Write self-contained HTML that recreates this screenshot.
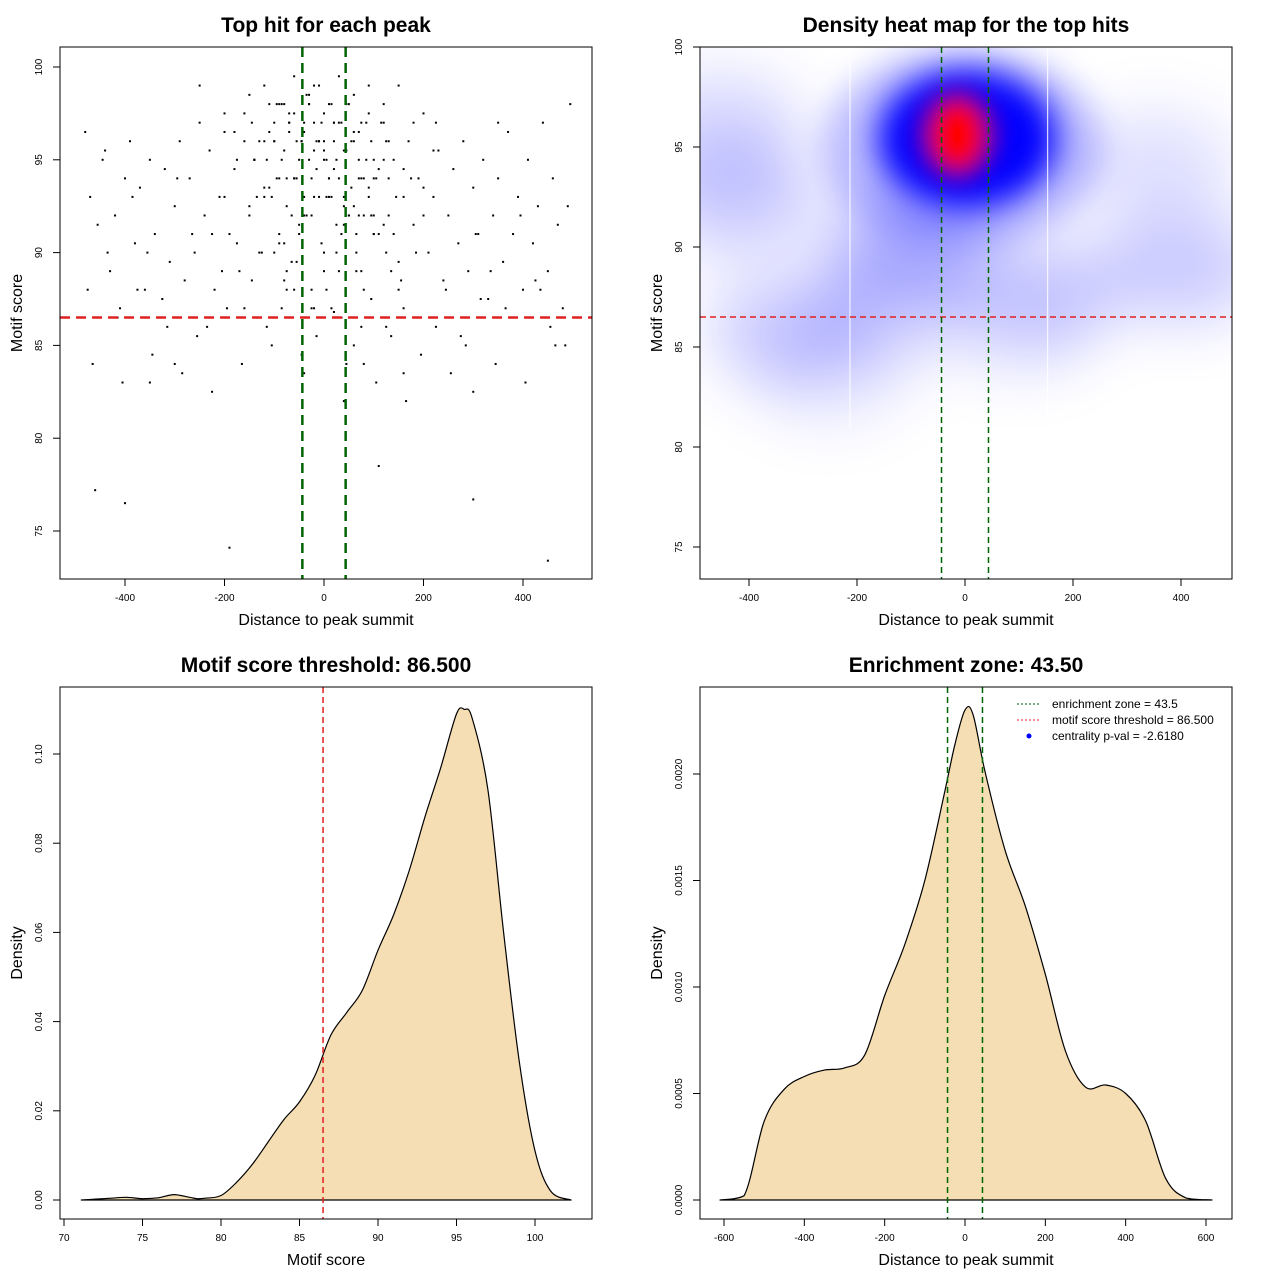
<!DOCTYPE html>
<html><head><meta charset="utf-8"><style>
html,body{margin:0;padding:0;background:#fff;}
svg{display:block;font-family:"Liberation Sans",sans-serif;}
</style></head><body>
<svg id="fig" width="1280" height="1280" viewBox="0 0 1280 1280">
<defs>
<filter id="blur1" x="-50%" y="-50%" width="200%" height="200%"><feGaussianBlur stdDeviation="16"/></filter>
<filter id="blur3" x="-50%" y="-50%" width="200%" height="200%"><feGaussianBlur stdDeviation="10"/></filter>
<filter id="blur2" x="-50%" y="-50%" width="200%" height="200%"><feGaussianBlur stdDeviation="30"/></filter>
<clipPath id="clipHeat"><rect x="700" y="47" width="532" height="532"/></clipPath>
</defs>
</svg>
<script>
// ---------- data ----------
const scatterDist = [-480,-470,-455,-440,-430,-420,-410,-400,-390,-380,-370,-360,-350,-340,-330,-320,-310,-300,-290,-280,-270,-260,-250,-240,-230,-220,-210,-200,-190,-180,-170,-160,-150,-140,-130,-120,-110,-100,-95,-90,-85,-80,-75,-70,-65,-60,-55,-50,-45,-40,-35,-30,-25,-20,-15,-10,-5,0,5,10,15,20,25,30,35,40,45,50,55,60,65,70,75,80,85,90,95,100,110,120,130,140,150,160,170,180,190,200,210,220,230,240,250,260,270,280,290,300,310,320,330,340,350,360,370,380,390,400,410,420,430,440,450,460,470,480,490,
-475,-445,-415,-385,-355,-325,-295,-265,-235,-205,-175,-145,-115,-85,-55,-25,5,35,65,95,125,155,185,215,245,275,305,335,365,395,425,455,485,
-465,-435,-405,-375,-345,-315,-285,-255,-225,-195,-165,-135,-105,-75,-45,-15,15,45,75,105,135,165,195,225,255,285,315,345,375,405,435,465,495,
-250,-200,-150,-120,-90,-60,-30,-10,10,30,60,90,120,150,180,220,-180,-140,-100,-70,-40,-20,0,20,40,70,100,130,160,200,-60,-20,20,60,100,-80,-40,0,40,80,-160,160,-300,300,-350,350,
-140,-120,-100,-80,-60,-40,-20,0,20,40,
60,80,100,120,140,-130,-110,-90,-70,-50,
-30,-10,10,30,50,70,90,110,130,-145,
-125,-105,-85,-65,-45,-25,-5,15,35,55,
75,95,115,135,-135,-115,-95,-75,-55,-35,
-15,5,25,45,65,85,105,125,145,-150,
-100,-50,0,50,100,150,-75,-25,25,75,
125,-175,175,-200,200,-225,225,-160,160,-60,
-20,20,60,-80,80,-40,40,0,-120,120,
-90,90,-30,30,-70,70,-10,10,-110,110,
-460,-190,-400,300,450,-200];
const scatterScore = [96.5,93,91.5,95.5,89,92,87,94,96,90.5,93.5,88,95,91,86.5,94.5,89.5,92.5,96,88.5,94,90,97,92,95.5,88,93,96.5,91,94.5,89,97.5,92.5,95,90,96,93.5,97,94,91,98,95.5,92.5,96.5,89.5,97.5,94,91.5,96,93,98.5,95,92,97,94.5,96,90.5,97.5,95,93,98,96,91.5,94,97,92.5,95.5,98,93.5,96.5,90,94,97,92,95,93.5,96,91,94.5,97,92,95,89.5,93,96,91.5,94,97.5,90,93,95.5,88.5,92,94.5,90.5,96,89,93.5,91,95,87.5,92,94,89.5,96.5,91,93,88,95,90.5,92.5,97,89,94,91.5,87,
92.5,88,95,86.5,93,90,87.5,94,91,86,89,90.5,88.5,86,87,89.5,87,88,86.5,89,87.5,86,88.5,90,86.5,88,85.5,91,89,87,92,88.5,86,
85,84,90,83,88,84.5,86,83.5,85.5,82.5,87,84,86.5,85,88,84.5,85.5,87,84,86,83,85.5,82,84.5,86,83.5,85,87.5,84,86.5,83,88,85,
98,99,97.5,98.5,99,98,99.5,98.5,99,98,99.5,98.5,97.5,98,99,97,95.5,96.5,95,96,97,96.5,95.5,96,97,95.5,96.5,95,96,94.5,93.5,94,93,94.5,92.5,91,90.5,92,90,91.5,88,87,83.5,84,82.5,83,
97,95,93,96,98,94,97,99,95,97,
93,96,94,92,95,91,96,98,94,97,
95,98,96,94,97,92,95,93,91,94,
97,90,93,95,92,96,94,97,93,91,
96,94,92,97,89,93,95,98,94,96,
92,96,93,95,98,91,97,94,90,93,
92,90,91,89,92,94,88,89,88,90,
89,96,95,94,93,92,91,97,96,87,
88,87,86.8,85,88.5,84,83.5,82,95.5,93.5,
91.5,90.5,99,98,89,97.5,92,93,94,96.5,
78.5,77.2,74.1,76.5,76.7,73.4];
const heatDist = [-420,-330,100,400,350,-250,-100,-450,-150,150];
const heatScore = [92.5,86,86.5,89,94,84,90,96,87,88];
const heatLevel = [0.2,0.18,0.12,0.2,0.12,0.1,0.3,0.15,0.15,0.15];
const coreDist = [-5], coreScore = [95.5];
const scoreDensX = [71.1,72,73,74,75,76,77,78,78.5,79,80,81,82,83,84,85,86,87,88,89,90,91,92,93,94,95,95.5,96,97,98,99,100,101,102.3];
const scoreDensY = [0,0.0002,0.0004,0.0006,0.0003,0.0005,0.0012,0.0006,0.0003,0.0004,0.001,0.004,0.008,0.013,0.018,0.022,0.028,0.037,0.042,0.047,0.056,0.064,0.074,0.086,0.097,0.109,0.110,0.108,0.092,0.060,0.031,0.011,0.002,0];
const distDensX = [-610,-550,-500,-450,-400,-350,-300,-250,-200,-150,-100,-50,-25,0,20,50,100,150,200,250,300,350,400,450,500,550,615];
const distDensY = [0,0.00002,0.00037,0.00052,0.00058,0.00061,0.00062,0.00068,0.00096,0.0012,0.0015,0.00192,0.00214,0.0023,0.00228,0.00201,0.00164,0.00138,0.00106,0.0007,0.00053,0.00054,0.0005,0.00037,0.0001,0.00001,0];
const xTicksDist = [-400,-200,0,200,400];
const xTicksDist4 = [-600,-400,-200,0,200,400,600];
const yTicksScore = [75,80,85,90,95,100];
const xTicksScore = [70,75,80,85,90,95,100];
const yTicks3 = [0,0.02,0.04,0.06,0.08,0.10];
const yTicks3Labels = ["0.00","0.02","0.04","0.06","0.08","0.10"];
const yTicks4 = [0,0.0005,0.001,0.0015,0.002];
const yTicks4Labels = ["0.0000","0.0005","0.0010","0.0015","0.0020"];
const zone = 43.5, threshold = 86.5;

const NS="http://www.w3.org/2000/svg";
const svg=document.getElementById('fig');
function mk(tag,attrs,parent){const e=document.createElementNS(NS,tag);for(const k in attrs)e.setAttribute(k,attrs[k]);(parent||svg).appendChild(e);return e;}
function lin(d0,d1,r0,r1){return v=>r0+(v-d0)*(r1-r0)/(d1-d0);}
function smooth(P,base){let d=`M${P[0][0].toFixed(1)},${P[0][1].toFixed(1)}`;
  const cl=y=>Math.min(y,base);
  for(let i=0;i<P.length-1;i++){const p0=P[Math.max(0,i-1)],p1=P[i],p2=P[i+1],p3=P[Math.min(P.length-1,i+2)];
    const c1=[p1[0]+(p2[0]-p0[0])/6,cl(p1[1]+(p2[1]-p0[1])/6)],c2=[p2[0]-(p3[0]-p1[0])/6,cl(p2[1]-(p3[1]-p1[1])/6)];
    d+=` C${c1[0].toFixed(1)},${c1[1].toFixed(1)} ${c2[0].toFixed(1)},${c2[1].toFixed(1)} ${p2[0].toFixed(1)},${p2[1].toFixed(1)}`;}
  return d+' Z';}

function axes(g,b,sx,sy,xt,xl,yt,yl,title,xlab,ylab){
  const t=mk('text',{x:(b.x0+b.x1)/2,y:b.y0-15,'text-anchor':'middle','font-size':21,'font-weight':'bold'},g);
  t.textContent=title;
  const xg=mk('g',{},g);
  xt.forEach((v,i)=>{const x=sx(v);mk('line',{x1:x,x2:x,y1:b.y1,y2:b.y1+7,stroke:'#000'},xg);
    const l=mk('text',{x:x,y:b.y1+22,'text-anchor':'middle','font-size':10},xg);l.textContent=xl[i];});
  const yg=mk('g',{},g);
  yt.forEach((v,i)=>{const y=sy(v);mk('line',{x1:b.x0,x2:b.x0-7,y1:y,y2:y,stroke:'#000'},yg);
    const l=mk('text',{x:b.x0-18,y:y,'text-anchor':'middle','font-size':10,transform:`rotate(-90 ${b.x0-18} ${y})`},yg);l.textContent=yl[i];});
  const xa=mk('text',{x:(b.x0+b.x1)/2,y:b.y1+46,'text-anchor':'middle','font-size':16},g);xa.textContent=xlab;
  const cx=b.x0-38,cy=(b.y0+b.y1)/2;
  const ya=mk('text',{x:cx,y:cy,'text-anchor':'middle','font-size':16,transform:`rotate(-90 ${cx} ${cy})`},g);ya.textContent=ylab;
  const r=mk('rect',{x:b.x0,y:b.y0,width:b.x1-b.x0,height:b.y1-b.y0,fill:'none',stroke:'#000','stroke-width':1},g);
}

// ---------- panel 1: scatter ----------
{
  const b={x0:60,y0:47,x1:592,y1:579};
  const sx=lin(-400,400,125,523), sy=lin(75,100,531,67);
  const g=mk('g',{});
  const pts=mk('g',{},g);
  const n=Math.min(scatterDist.length,scatterScore.length);
  for(let i=0;i<n;i++){const p=mk('rect',{x:sx(scatterDist[i])-1,y:sy(scatterScore[i])-1,width:2,height:2,fill:'#000'},pts);
    }
  const h=mk('line',{x1:b.x0,x2:b.x1,y1:sy(threshold),y2:sy(threshold),stroke:'#e02020','stroke-width':2.5,'stroke-dasharray':'10 6'},g);
  [-zone,zone].forEach(z=>{const v=mk('line',{x1:sx(z),x2:sx(z),y1:b.y0,y2:b.y1,stroke:'#006400','stroke-width':2.5,'stroke-dasharray':'10 6'},g);});
  axes(g,b,sx,sy,xTicksDist,xTicksDist.map(String),yTicksScore,yTicksScore.map(String),'Top hit for each peak','Distance to peak summit','Motif score');
}
// ---------- panel 2: heatmap ----------
{
  const b={x0:700,y0:47,x1:1232,y1:579};
  const sx=lin(-400,400,749,1181), sy=lin(75,100,547,47);
  const g=mk('g',{});
  const hg=mk('g',{'clip-path':'url(#clipHeat)'},g);
  const soft=mk('g',{filter:'url(#blur2)'},hg);
  heatDist.forEach((d,i)=>{const e=mk('ellipse',{cx:sx(d),cy:sy(heatScore[i]),rx:80,ry:55,fill:'#0000ff','fill-opacity':heatLevel[i]},soft);});
  const core=mk('g',{filter:'url(#blur1)'},hg);
  const redg=mk('g',{filter:'url(#blur3)'},hg);
  coreDist.forEach((d,i)=>{
    const cx=sx(d),cy=sy(coreScore[i]);
    const e1=mk('ellipse',{cx:cx,cy:cy+10,rx:140,ry:100,fill:'#0000ff','fill-opacity':0.25},core);
    const e2=mk('ellipse',{cx:cx+5,cy:cy+2,rx:90,ry:70,fill:'#0000ff'},core);
    const e4=mk('ellipse',{cx:cx-5,cy:cy-2,rx:42,ry:48,fill:'#a000a0','fill-opacity':0.7},redg);
    const e3=mk('ellipse',{cx:cx-5,cy:cy-2,rx:26,ry:34,fill:'#ff0000'},redg);
  });
  [-213,153].forEach(d=>{const l=mk('line',{x1:sx(d),x2:sx(d),y1:b.y0,y2:sy(81),stroke:'#fff','stroke-width':1.2,'stroke-opacity':0.8},hg);});
  const h=mk('line',{x1:b.x0,x2:b.x1,y1:sy(threshold),y2:sy(threshold),stroke:'#e02020','stroke-width':1.5,'stroke-dasharray':'6 4'},g);
  [-zone,zone].forEach(z=>{const v=mk('line',{x1:sx(z),x2:sx(z),y1:b.y0,y2:b.y1,stroke:'#006400','stroke-width':1.5,'stroke-dasharray':'6 4'},g);});
  axes(g,b,sx,sy,xTicksDist,xTicksDist.map(String),yTicksScore,yTicksScore.map(String),'Density heat map for the top hits','Distance to peak summit','Motif score');
}
// ---------- panel 3: score density ----------
{
  const b={x0:60,y0:687,x1:592,y1:1219};
  const sx=lin(70,100,64,535), sy=lin(0,0.10,1200,754);
  const g=mk('g',{});
  const P=scoreDensX.map((x,i)=>[sx(x),sy(scoreDensY[i])]);
  const p=mk('path',{d:smooth(P,sy(0)),fill:'#f5deb3',stroke:'#000','stroke-width':1.2,'stroke-linejoin':'round'},g);
  const v=mk('line',{x1:sx(threshold),x2:sx(threshold),y1:b.y0,y2:b.y1,stroke:'#e02020','stroke-width':1.5,'stroke-dasharray':'6 4'},g);
  axes(g,b,sx,sy,xTicksScore,xTicksScore.map(String),yTicks3,yTicks3Labels,'Motif score threshold: 86.500','Motif score','Density');
}
// ---------- panel 4: distance density ----------
{
  const b={x0:700,y0:687,x1:1232,y1:1219};
  const sx=lin(-600,600,724,1206), sy=lin(0,0.002,1200,774);
  const g=mk('g',{});
  const P=distDensX.map((x,i)=>[sx(x),sy(distDensY[i])]);
  const p=mk('path',{d:smooth(P,sy(0)),fill:'#f5deb3',stroke:'#000','stroke-width':1.2,'stroke-linejoin':'round'},g);
  [-zone,zone].forEach(z=>{const v=mk('line',{x1:sx(z),x2:sx(z),y1:b.y0,y2:b.y1,stroke:'#006400','stroke-width':1.5,'stroke-dasharray':'6 4'},g);});
  axes(g,b,sx,sy,xTicksDist4,xTicksDist4.map(String),yTicks4,yTicks4Labels,'Enrichment zone: 43.50','Distance to peak summit','Density');
  const lg=mk('g',{},g);
  const items=[['enrichment zone = 43.5','#006400','line'],['motif score threshold = 86.500','#e02020','line'],['centrality p-val = -2.6180','#0000ff','dot']];
  items.forEach((it,i)=>{const y=704+i*16;
    if(it[2]==='line'){const l=mk('line',{x1:1017,x2:1041,y1:y,y2:y,stroke:it[1],'stroke-width':1,'stroke-dasharray':'2 2'},lg);}
    else{const c=mk('circle',{cx:1029,cy:y,r:2.5,fill:it[1]},lg);}
    const t=mk('text',{x:1052,y:y+4,'font-size':12},lg);t.textContent=it[0];});
}
</script>
</body></html>
